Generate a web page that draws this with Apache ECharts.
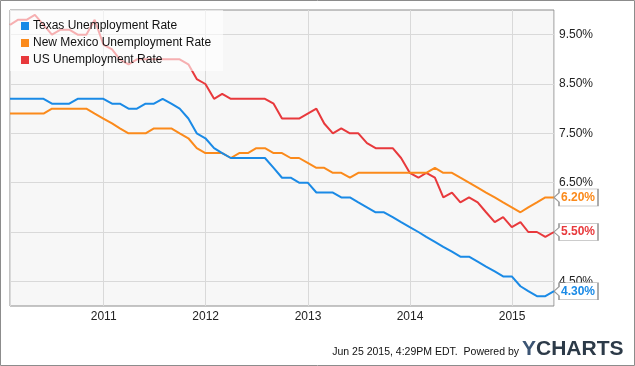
<!DOCTYPE html>
<html>
<head>
<meta charset="utf-8">
<script src="https://cdn.jsdelivr.net/npm/echarts@6/dist/echarts.min.js"></script>
<style>
  html, body { margin: 0; padding: 0; background: #fff; }
  #chart { width: 635px; height: 366px; }
</style>
</head>
<body>
<div id="chart"></div>
<script>
const dates = [
  '2010-01-31','2010-02-28','2010-03-31','2010-04-30','2010-05-31','2010-06-30','2010-07-31','2010-08-31','2010-09-30','2010-10-31','2010-11-30','2010-12-31',
  '2011-01-31','2011-02-28','2011-03-31','2011-04-30','2011-05-31','2011-06-30','2011-07-31','2011-08-31','2011-09-30','2011-10-31','2011-11-30','2011-12-31',
  '2012-01-31','2012-02-29','2012-03-31','2012-04-30','2012-05-31','2012-06-30','2012-07-31','2012-08-31','2012-09-30','2012-10-31','2012-11-30','2012-12-31',
  '2013-01-31','2013-02-28','2013-03-31','2013-04-30','2013-05-31','2013-06-30','2013-07-31','2013-08-31','2013-09-30','2013-10-31','2013-11-30','2013-12-31',
  '2014-01-31','2014-02-28','2014-03-31','2014-04-30','2014-05-31','2014-06-30','2014-07-31','2014-08-31','2014-09-30','2014-10-31','2014-11-30','2014-12-31',
  '2015-01-31','2015-02-28','2015-03-31','2015-04-30','2015-05-31'
];
const texas = [
  8.2,8.2,8.2,8.2,8.2,8.1,8.1,8.1,8.2,8.2,8.2,8.2,
  8.1,8.1,8.0,8.0,8.1,8.1,8.2,8.1,8.0,7.8,7.5,7.4,
  7.2,7.1,7.0,7.0,7.0,7.0,7.0,6.8,6.6,6.6,6.5,6.5,
  6.3,6.3,6.3,6.2,6.2,6.1,6.0,5.9,5.9,5.8,5.7,5.6,
  5.5,5.4,5.3,5.2,5.1,5.0,5.0,4.9,4.8,4.7,4.6,4.6,
  4.4,4.3,4.2,4.2,4.3
];
const newMexico = [
  7.9,7.9,7.9,7.9,7.9,8.0,8.0,8.0,8.0,8.0,7.9,7.8,
  7.7,7.6,7.5,7.5,7.5,7.6,7.6,7.6,7.5,7.4,7.2,7.1,
  7.1,7.1,7.0,7.1,7.1,7.2,7.2,7.1,7.1,7.0,7.0,6.9,
  6.8,6.8,6.7,6.7,6.6,6.7,6.7,6.7,6.7,6.7,6.7,6.7,
  6.7,6.7,6.8,6.7,6.7,6.6,6.5,6.4,6.3,6.2,6.1,6.0,
  5.9,6.0,6.1,6.2,6.2
];
const us = [
  9.7,9.8,9.8,9.9,9.7,9.5,9.6,9.6,9.5,9.5,9.8,9.3,
  9.2,9.0,8.9,9.0,9.0,9.0,9.0,9.0,9.0,8.9,8.6,8.5,
  8.2,8.3,8.2,8.2,8.2,8.2,8.2,8.1,7.8,7.8,7.8,7.9,
  8.0,7.7,7.5,7.6,7.5,7.5,7.3,7.2,7.2,7.2,7.0,6.7,
  6.6,6.7,6.6,6.2,6.3,6.1,6.2,6.1,5.9,5.7,5.8,5.6,
  5.7,5.5,5.5,5.4,5.5
];
const seriesNames = ['Texas Unemployment Rate', 'New Mexico Unemployment Rate', 'US Unemployment Rate'];
const seriesColors = ['#1a8ae6', '#fb8a1b', '#e8393c'];
const seriesValues = [texas, newMexico, us];

const FONT = '"Liberation Sans", Arial, sans-serif';
const tagPath = 'path://M5,0 L44,0 L44,17 L5,17 L5,13 L0,8.5 L5,4 Z';

const chart = echarts.init(document.getElementById('chart'), null, { renderer: 'canvas' });

const series = seriesValues.map((vals, k) => {
  const last = vals.length - 1;
  return {
    name: seriesNames[k],
    type: 'line',
    data: vals.map((v, i) => [dates[i], v]),
    showSymbol: false,
    symbol: 'none',
    lineStyle: { width: 2, color: seriesColors[k] },
    itemStyle: { color: seriesColors[k] },
    z: 3 + (2 - k),
    markPoint: {
      silent: true,
      symbol: tagPath,
      symbolSize: [44, 17],
      symbolOffset: [22, 0],
      symbolKeepAspect: false,
      itemStyle: { color: '#ffffff', borderColor: '#9a9a9a', borderWidth: 1 },
      label: {
        show: true,
        position: 'inside',
        offset: [2, 0],
        formatter: vals[last].toFixed(2) + '%',
        color: seriesColors[k],
        fontWeight: 'bold',
        fontSize: 12,
        fontFamily: FONT
      },
      data: [{ coord: [dates[last], vals[last]] }]
    }
  };
});

chart.setOption({
  animation: false,
  backgroundColor: '#ffffff',
  textStyle: { fontFamily: FONT },
  grid: {
    left: 10, top: 10, right: 81, bottom: 60,
    show: true,
    backgroundColor: '#f7f7f7',
    borderColor: '#8c8c8c',
    borderWidth: 1,
    containLabel: false
  },
  legend: {
    left: 10, top: 10,
    orient: 'vertical',
    icon: 'rect',
    itemWidth: 8, itemHeight: 8,
    itemGap: 5,
    padding: [10, 12, 5, 11],
    backgroundColor: 'rgba(255,255,255,0.6)',
    textStyle: { fontSize: 12, color: '#111', fontFamily: FONT, padding: [0, 0, 0, -1] },
    data: seriesNames,
    selectedMode: false
  },
  xAxis: {
    type: 'time',
    min: dates[0],
    max: dates[dates.length - 1],
    minInterval: 365 * 24 * 3600 * 1000,
    maxInterval: 366 * 24 * 3600 * 1000,
    axisLine: { show: false },
    axisTick: { show: false },
    splitLine: { show: true, lineStyle: { color: '#d9d9d9', width: 1 } },
    axisLabel: {
      formatter: '{yyyy}',
      color: '#222',
      fontSize: 12,
      margin: 5,
      fontFamily: FONT,
      showMinLabel: false,
      showMaxLabel: false
    }
  },
  yAxis: {
    type: 'value',
    position: 'right',
    min: 4, max: 10, interval: 0.5,
    axisLine: { show: false },
    axisTick: { show: false },
    splitLine: { show: true, lineStyle: { color: ['rgba(0,0,0,0)', '#d9d9d9'], width: 1 } },
    axisLabel: {
      color: '#222',
      fontSize: 12,
      margin: 5,
      fontFamily: FONT,
      formatter: function (v) {
        const f = Math.round(v * 10) / 10;
        if (Math.abs(f - Math.floor(f) - 0.5) < 1e-6) return f.toFixed(2) + '%';
        return '';
      }
    }
  },
  series: series,
  graphic: [
    {
      type: 'rect',
      shape: { x: 0.5, y: 0.5, width: 634, height: 365 },
      style: { fill: 'none', stroke: '#8c8c8c', lineWidth: 1 },
      silent: true, z: 100
    },
    {
      type: 'text',
      right: 116, top: 347,
      style: {
        text: 'Jun 25 2015, 4:29PM EDT.  Powered by',
        font: '10.5px "Liberation Sans", Arial, sans-serif',
        fill: '#111'
      }
    },
    {
      type: 'text',
      left: 522, top: 339,
      style: {
        text: '{y|Y}{c|CHARTS}',
        rich: {
          y: { font: 'bold 21px "Liberation Sans", Arial, sans-serif', fill: '#3c5574' },
          c: { font: 'bold 21px "Liberation Sans", Arial, sans-serif', fill: '#2c3a48' }
        }
      }
    }
  ]
});
</script>
</body>
</html>
